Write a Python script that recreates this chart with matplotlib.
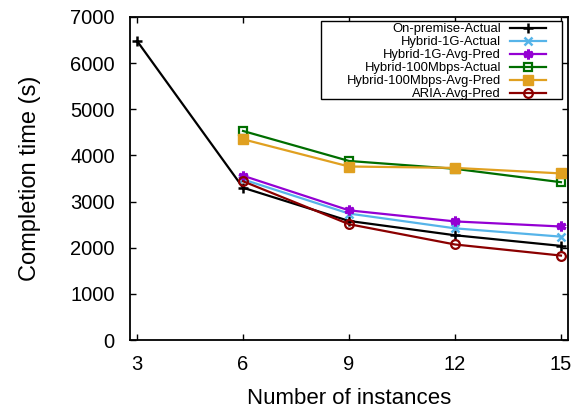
import matplotlib
matplotlib.use("Agg")
import matplotlib.pyplot as plt
from matplotlib.patches import Rectangle

plt.rcParams['font.family'] = ['Liberation Sans', 'DejaVu Sans']

x_all = [3, 6, 9, 12, 15]
x_hyb = [6, 9, 12, 15]

onprem_actual = [6480, 3300, 2580, 2270, 2040]
h1g_actual = [3480, 2740, 2420, 2240]
h1g_pred = [3560, 2810, 2570, 2460]
h100_actual = [4530, 3880, 3710, 3420]
h100_pred = [4350, 3760, 3730, 3610]
aria_pred = [3440, 2510, 2070, 1830]

xticks = [3, 6, 9, 12, 15]
yticks = [0, 1000, 2000, 3000, 4000, 5000, 6000, 7000]

fig = plt.figure(figsize=(5.8, 4.09), dpi=100)
ax = fig.add_axes([130/580, 1-340/409, 438/580, 323/409])

lw = 1.6
ax.plot(x_all, onprem_actual, color='black', lw=lw, marker='+', ms=7, mew=1.8,
        label='On-premise-Actual')
ax.plot(x_hyb, h1g_actual, color='#56b4e9', lw=lw, marker='x', ms=6, mew=1.8,
        label='Hybrid-1G-Actual')
ax.plot(x_hyb, h1g_pred, color='#9400d3', lw=lw, marker=(6, 2, 0), ms=7, mew=2.2,
        label='Hybrid-1G-Avg-Pred')
ax.plot(x_hyb, h100_actual, color='#006e00', lw=lw, marker='s', ms=6.3, mew=1.6,
        mfc='none', label='Hybrid-100Mbps-Actual')
ax.plot(x_hyb, h100_pred, color='#e0a020', lw=lw, marker='s', ms=6.5, mew=1.0,
        label='Hybrid-100Mbps-Avg-Pred')
ax.plot(x_hyb, aria_pred, color='#8b0000', lw=lw, marker='o', ms=6.3, mew=1.6,
        mfc='none', label='ARIA-Avg-Pred')

ax.set_xlim(2.8, 15.2)
ax.set_ylim(0, 7000)
ax.set_xticks(xticks)
ax.set_yticks(yticks)
ax.tick_params(direction='in', top=True, right=True, labelsize=14.5, length=4,
               width=1, pad=11)
for s in ax.spines.values():
    s.set_linewidth(1.3)

ax.set_xlabel('Number of instances', fontsize=16, labelpad=10)
ax.set_ylabel('Completion time (s)', fontsize=17, labelpad=21)

# legend frame drawn as a separate box
ax.add_patch(Rectangle((0.436, 0.746), 0.55, 0.2425, transform=ax.transAxes,
                       facecolor='white', edgecolor='black', lw=1.0, zorder=5))
leg = ax.legend(loc='upper right', bbox_to_anchor=(0.950, 0.980), borderaxespad=0,
                markerfirst=False, fontsize=9.4, frameon=False,
                handlelength=2.75, labelspacing=0.07, borderpad=0.0,
                handletextpad=0.7)
leg.set_zorder(6)
leg._legend_box.align = 'right'
for vp in leg._legend_handle_box.get_children():
    for c in vp.get_children():
        c.align = 'right'

fig.savefig('out.png', dpi=100)
